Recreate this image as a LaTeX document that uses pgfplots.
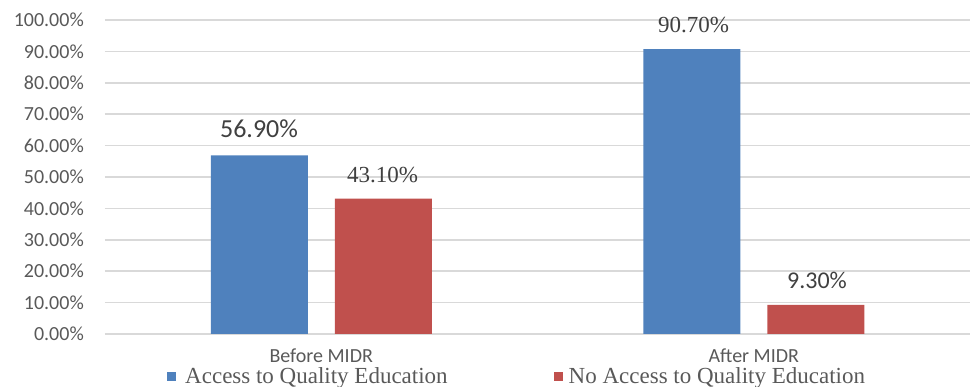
\documentclass[border=0pt]{standalone}
\usepackage{pgfplots}
\pgfplotsset{compat=1.18}
\usepackage{fontspec}
\setmainfont{Liberation Serif}
\newfontfamily\carlito{Carlito}
\definecolor{barblue}{HTML}{4F81BD}
\definecolor{barred}{HTML}{C0504D}
\definecolor{ticktext}{HTML}{595959}
\definecolor{labeltext}{HTML}{404040}
\definecolor{gridgray}{HTML}{D9D9D9}
\begin{document}
\begin{tikzpicture}
\path[use as bounding box] (0,0) rectangle (973pt,387pt);
\begin{axis}[
  at={(105pt,53pt)}, anchor=south west,
  scale only axis, width=865pt, height=314pt, clip=false,
  ybar=27pt, bar width=97pt,
  xmin=-0.5, xmax=1.5, ymin=0, ymax=100,
  xtick={0,1}, xticklabels={Before MIDR, After MIDR},
  ytick={0,10,20,30,40,50,60,70,80,90,100},
  yticklabels={0.00\%,10.00\%,20.00\%,30.00\%,40.00\%,50.00\%,60.00\%,70.00\%,80.00\%,90.00\%,100.00\%},
  ymajorgrids, grid style={gridgray, line width=1.5pt},
  axis lines=left, x axis line style={gridgray, line width=1.5pt, -}, y axis line style={draw=none},
  major tick length=0pt, tick style={draw=none},
  yticklabel style={font=\carlito\fontsize{20}{24}\selectfont, text=ticktext, anchor=east, inner sep=0pt, xshift=-21pt},
  xticklabel style={font=\carlito\fontsize{20}{24}\selectfont, text=ticktext, anchor=base, inner sep=0pt, yshift=-29pt},
  /pgf/number format/assume math mode=true,
  legend columns=2,
  legend style={draw=none, fill=none, at={(axis description cs:0.0717,-0.134)}, anchor=west,
    font=\fontsize{23}{26}\selectfont, text=ticktext, inner sep=0pt,
    /tikz/every even column/.append style={column sep=104pt}},
]
\addplot[fill=barblue, draw=none, legend image code/.code={\fill[barblue] (0pt,-4.5pt) rectangle (9pt,4.5pt); \path (16pt,0pt);}] coordinates {(0,56.9) (1,90.7)};
\addplot[fill=barred, draw=none, legend image code/.code={\fill[barred] (0pt,-4.5pt) rectangle (9pt,4.5pt); \path (13pt,0pt);}] coordinates {(0,43.1) (1,9.3)};
\legend{Access to Quality Education, No Access to Quality Education}
\node[font=\carlito\fontsize{26}{30}\selectfont, text=labeltext] at (axis cs:-0.1439,65.29) {56.90\%};
\node[font=\fontsize{23}{26}\selectfont, text=labeltext] at (axis cs:0.1416,50.64) {43.10\%};
\node[font=\fontsize{23}{26}\selectfont, text=labeltext] at (axis cs:0.8607,98.41) {90.70\%};
\node[font=\carlito\fontsize{24}{28}\selectfont, text=labeltext] at (axis cs:1.1462,17.04) {9.30\%};
\end{axis}
\end{tikzpicture}
\end{document}
